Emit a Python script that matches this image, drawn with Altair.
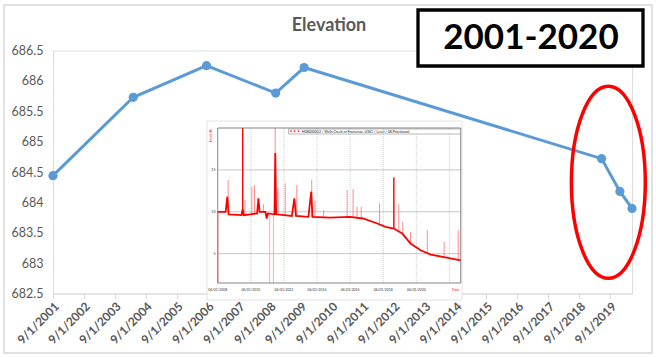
import altair as alt
import pandas as pd

# ---------------- main series ----------------
dates = ["2001-09-01", "2004-04-05", "2006-08-17", "2008-11-10",
         "2009-10-12", "2019-05-22", "2019-12-24", "2020-05-15"]
elevation = [684.44, 685.73, 686.25, 685.80, 686.22, 684.72, 684.18, 683.90]

tick_years = list(range(2001, 2020))          # x labels 9/1/2001 ... 9/1/2019
y_tick_values = [682.5, 683.0, 683.5, 684.0, 684.5, 685.0, 685.5, 686.0, 686.5]

chart_title = "Elevation"
period_label = "2001-2020"
highlight_date = ["2019-08-10"]
highlight_level = [684.33]

# ---------------- inset hydrograph ----------------
inset_line_year = [2008.42, 2008.90, 2009.00, 2009.08, 2009.85, 2009.93, 2010.00,
                   2010.80, 2010.88, 2010.95, 2011.30, 2011.38, 2011.45, 2011.85,
                   2011.90, 2011.95, 2012.90, 2013.05, 2013.15, 2013.90, 2014.07,
                   2014.15, 2015.20, 2016.40, 2017.20, 2018.06, 2018.56, 2019.06,
                   2019.57, 2020.07, 2020.68, 2021.29, 2022.09, 2023.10]
inset_line_level = [10.0, 10.0, 11.8, 9.7, 9.6, 10.3, 9.6,
                    9.8, 11.6, 10.0, 10.0, 9.2, 9.8, 9.7,
                    17.0, 9.7, 9.5, 11.6, 9.5, 9.4, 12.4,
                    9.4, 9.3, 9.4, 9.2, 8.6, 8.2, 8.0,
                    7.4, 6.2, 5.4, 4.9, 4.6, 4.2]

# upward spikes (light pink unless solid)
inset_spike_year = [2009.05, 2009.93, 2010.07, 2010.48, 2010.64, 2011.18,
                    2011.89, 2012.06, 2012.50, 2013.20, 2014.10,
                    2014.30, 2014.82, 2016.24, 2016.60, 2016.84, 2017.09, 2018.20,
                    2019.06, 2019.36, 2019.60, 2020.07, 2021.08, 2022.10, 2022.95]
inset_spike_base = [10.0, 9.6, 9.6, 9.7, 9.7, 9.9,
                    9.7, 9.6, 9.6, 9.5, 9.4,
                    9.4, 9.35, 9.4, 9.4, 9.3, 9.2, 8.6,
                    8.0, 7.9, 7.4, 6.2, 5.0, 4.6, 4.2]
inset_spike_top = [13.8, 20.0, 11.4, 13.0, 13.2, 10.9,
                   20.0, 12.8, 13.4, 13.2, 13.8,
                   11.3, 10.2, 12.6, 12.7, 10.6, 10.6, 11.0,
                   14.1, 10.9, 8.8, 7.6, 7.8, 6.4, 7.8]
inset_spike_solid = [False, True, False, False, False, False,
                     False, False, False, False, False,
                     False, False, False, False, False, False, False,
                     True, False, False, False, False, False, False]
# downward drop-outs to the bottom of the inset
inset_drop_year = [2008.45, 2011.55, 2011.79]
inset_drop_base = [10.0, 9.6, 9.7]
inset_drop_bottom = [1.5, 1.5, 1.5]

inset_x_domain = [2008.42, 2023.10]
inset_y_domain = [1.5, 20.0]
inset_grid_levels = [5, 10, 15]
inset_y_labels = ["5", "10", "15"]
inset_grid_years = [2010.42, 2012.42, 2014.42, 2016.42, 2018.42, 2020.42, 2022.42]
inset_label_years = [2008.42, 2010.42, 2012.42, 2014.42, 2016.42, 2018.42, 2020.42]
inset_x_labels = ["06/01/2008", "06/01/2010", "06/01/2012", "06/01/2014",
                  "06/01/2016", "06/01/2018", "06/01/2020"]
inset_x_title = "Time"
inset_x_title_year = [2022.80]
inset_y_title = "Level (ft)"
inset_legend_text = "H08000002 / Wells Creek nr Frontenac, US61 / Level / 08.Provisional"
inset_legend_marks = [238.0, 241.5, 245.5]

# ---------------- layout ----------------
W, H = 579, 243
PAD_L, PAD_T = 53, 50.5
FONT = "Lato"
GRAY = "#595959"
BLUE = "#5B9BD5"

main_df = pd.DataFrame({"date": [d + "T00:00:00" for d in dates], "elevation": elevation})
hl_df = pd.DataFrame({"date": [d + "T00:00:00" for d in highlight_date], "elevation": highlight_level})
one = pd.DataFrame({"k": [0]})

x_main = alt.X(
    "date:T",
    scale=alt.Scale(nice=False, padding=0),
    axis=alt.Axis(
        values=[alt.DateTime(year=y, month=9, date=1) for y in tick_years],
        tickCount=200,
        format="%-m/%-d/%Y", labelAngle=-45, title=None, grid=False,
        domainColor="#d9d9d9", tickColor="#d9d9d9", tickSize=5,
        labelFontWeight="bold", labelFontSize=12, labelColor=GRAY,
        labelPadding=2, labelFont=FONT, labelOverlap=False,
    ),
)
y_main = alt.Y(
    "elevation:Q",
    scale=alt.Scale(domain=[y_tick_values[0], y_tick_values[-1]], nice=False, zero=False),
    axis=alt.Axis(
        values=y_tick_values, tickCount=200, format=".1~f", title=None, domain=False, ticks=False,
        gridColor="#d9d9d9", labelColor=GRAY, labelFontSize=12.5, labelPadding=10,
        labelFont=FONT, labelOverlap=False,
    ),
)

line = alt.Chart(main_df).mark_line(color=BLUE, strokeWidth=3).encode(x=x_main, y=y_main)
pts = alt.Chart(main_df).mark_circle(color=BLUE, size=85, opacity=1).encode(x=x_main, y=y_main)

k = 0.5523
rx = 0.385
ellipse_path = (
    f"M 0 -1 C {k*rx:.4f} -1 {rx} -{k} {rx} 0 "
    f"C {rx} {k} {k*rx:.4f} 1 0 1 "
    f"C -{k*rx:.4f} 1 -{rx} {k} -{rx} 0 "
    f"C -{rx} -{k} -{k*rx:.4f} -1 0 -1 Z"
)
ellipse = alt.Chart(hl_df).mark_point(
    shape=ellipse_path, size=36864, filled=False, color="#ff0000",
    stroke="#ff0000", strokeWidth=3.5, opacity=1,
).encode(x="date:T", y="elevation:Q")

main = alt.layer(line, pts, ellipse)

# ---------------- inset ----------------
ix = alt.Scale(domain=inset_x_domain, range=[164.7, 407.7], nice=False, zero=False)
iy = alt.Scale(domain=inset_y_domain, range=[232.5, 77.5], nice=False, zero=False)

card = alt.Chart(one).mark_rect(fill="white", stroke="#e2e2e2", strokeWidth=1).encode(
    x=alt.value(154), x2=alt.value(409), y=alt.value(70.5), y2=alt.value(249.5))

hgrid_df = pd.DataFrame({"level": inset_grid_levels, "x0": inset_x_domain[0], "x1": inset_x_domain[1],
                         "lab": inset_y_labels})
hgrid = alt.Chart(hgrid_df).mark_rule(color="#a0a0a0", strokeWidth=0.6).encode(
    y=alt.Y("level:Q", scale=iy, axis=None),
    x=alt.X("x0:Q", scale=ix, axis=None), x2="x1:Q")
ylabs = alt.Chart(hgrid_df).mark_text(fontSize=3.6, color="#333", align="right", font=FONT).encode(
    y=alt.Y("level:Q", scale=iy, axis=None), x=alt.value(162.5), text="lab:N")

vgrid_df = pd.DataFrame({"year": inset_grid_years, "y0": inset_y_domain[0], "y1": inset_y_domain[1]})
vgrid = alt.Chart(vgrid_df).mark_rule(color="#b0b0b0", strokeWidth=0.6, strokeDash=[1, 1]).encode(
    x=alt.X("year:Q", scale=ix, axis=None),
    y=alt.Y("y0:Q", scale=iy, axis=None), y2="y1:Q")

spk_df = pd.DataFrame({"year": inset_spike_year, "base": inset_spike_base,
                       "top": inset_spike_top, "solid": inset_spike_solid})
spikes_light = alt.Chart(spk_df).mark_rule(stroke="#ff8a8a", color="#ff8a8a", strokeWidth=1).encode(
    x=alt.X("year:Q", scale=ix, axis=None),
    y=alt.Y("base:Q", scale=iy, axis=None), y2="top:Q")
spikes_solid = alt.Chart(spk_df).transform_filter("datum.solid").mark_rule(
    stroke="#ff0000", color="#ff0000", strokeWidth=1.3).encode(
    x=alt.X("year:Q", scale=ix, axis=None),
    y=alt.Y("base:Q", scale=iy, axis=None), y2="top:Q")
drop_df = pd.DataFrame({"year": inset_drop_year, "base": inset_drop_base, "bottom": inset_drop_bottom})
drops = alt.Chart(drop_df).mark_rule(stroke="#ffb3b3", color="#ffb3b3", strokeWidth=1.2).encode(
    x=alt.X("year:Q", scale=ix, axis=None),
    y=alt.Y("bottom:Q", scale=iy, axis=None), y2="base:Q")

ln_df = pd.DataFrame({"year": inset_line_year, "level": inset_line_level})
red_line = alt.Chart(ln_df).mark_line(color="#ff0000", strokeWidth=1.8).encode(
    x=alt.X("year:Q", scale=ix, axis=None), y=alt.Y("level:Q", scale=iy, axis=None))

frame_df = pd.DataFrame({"x0": [inset_x_domain[0]], "x1": [inset_x_domain[1]],
                         "y0": [inset_y_domain[0]], "y1": [inset_y_domain[1]]})
frame = alt.Chart(frame_df).mark_rect(fillOpacity=0, stroke="#555", strokeWidth=0.7).encode(
    x=alt.X("x0:Q", scale=ix, axis=None), x2="x1:Q",
    y=alt.Y("y0:Q", scale=iy, axis=None), y2="y1:Q")

xl_df = pd.DataFrame({"year": inset_label_years, "lab": inset_x_labels})
xlabs = alt.Chart(xl_df).mark_text(fontSize=3.4, color="#333", font=FONT).encode(
    x=alt.X("year:Q", scale=ix, axis=None), y=alt.value(239.5), text="lab:N")
xt_df = pd.DataFrame({"year": inset_x_title_year, "lab": [inset_x_title]})
xtitle = alt.Chart(xt_df).mark_text(fontSize=3.6, color="#ff0000", font=FONT).encode(
    x=alt.X("year:Q", scale=ix, axis=None), y=alt.value(239.5), text="lab:N")
ytitle = alt.Chart(pd.DataFrame({"lab": [inset_y_title]})).mark_text(
    fontSize=3.6, color="#ff0000", angle=270, font=FONT).encode(
    x=alt.value(158), y=alt.value(85), text="lab:N")

leg_box = alt.Chart(one).mark_rect(fill="white", stroke="#777", strokeWidth=0.5).encode(
    x=alt.value(235.5), x2=alt.value(407.5), y=alt.value(78.5), y2=alt.value(83.5))
leg_marks = alt.Chart(pd.DataFrame({"px": inset_legend_marks})).mark_point(
    shape="triangle-down", size=5, filled=True, color="#ff0000", opacity=1).encode(
    x=alt.X("px:Q", scale=alt.Scale(domain=[0, 1], range=[0, 1]), axis=None), y=alt.value(81))
leg_text = alt.Chart(pd.DataFrame({"lab": [inset_legend_text]})).mark_text(
    fontSize=3.5, color="#222", align="left", font=FONT).encode(
    x=alt.value(249), y=alt.value(81.2), text="lab:N")

inset_core = alt.layer(hgrid, vgrid, drops, spikes_light, spikes_solid, red_line, frame,
                       xlabs, xtitle, ylabs)
legend = alt.layer(leg_box, leg_marks, leg_text)

# ---------------- annotations ----------------
border = alt.Chart(one).mark_rect(fillOpacity=0, stroke="#d9d9d9", strokeWidth=1.5).encode(
    x=alt.value(-49), x2=alt.value(599), y=alt.value(-45.5), y2=alt.value(302.5))
title = alt.Chart(pd.DataFrame({"t": [chart_title]})).mark_text(
    fontSize=18, fontWeight="bold", color=GRAY, font=FONT).encode(
    x=alt.value(276), y=alt.value(-25), text="t:N")
box = alt.Chart(one).mark_rect(fill="white", stroke="black", strokeWidth=3.3).encode(
    x=alt.value(365), x2=alt.value(590), y=alt.value(-40.5), y2=alt.value(15.5))
box_text = alt.Chart(pd.DataFrame({"t": [period_label]})).mark_text(
    fontSize=35, fontWeight="bold", color="black", font=FONT).encode(
    x=alt.value(478), y=alt.value(-12.5), text="t:N")

chart = alt.layer(
    border, card, inset_core, legend, ytitle, main, title, box, box_text
).resolve_scale(x="independent", y="independent").properties(
    width=W, height=H,
    autosize=alt.AutoSizeParams(type="none"),
    padding={"left": PAD_L, "top": PAD_T, "right": 656 - PAD_L - W, "bottom": 357 - PAD_T - H},
    background="white",
).configure_view(stroke=None).configure(font=FONT)

chart.save("out.html", embed_options={"renderer": "svg", "actions": False})
